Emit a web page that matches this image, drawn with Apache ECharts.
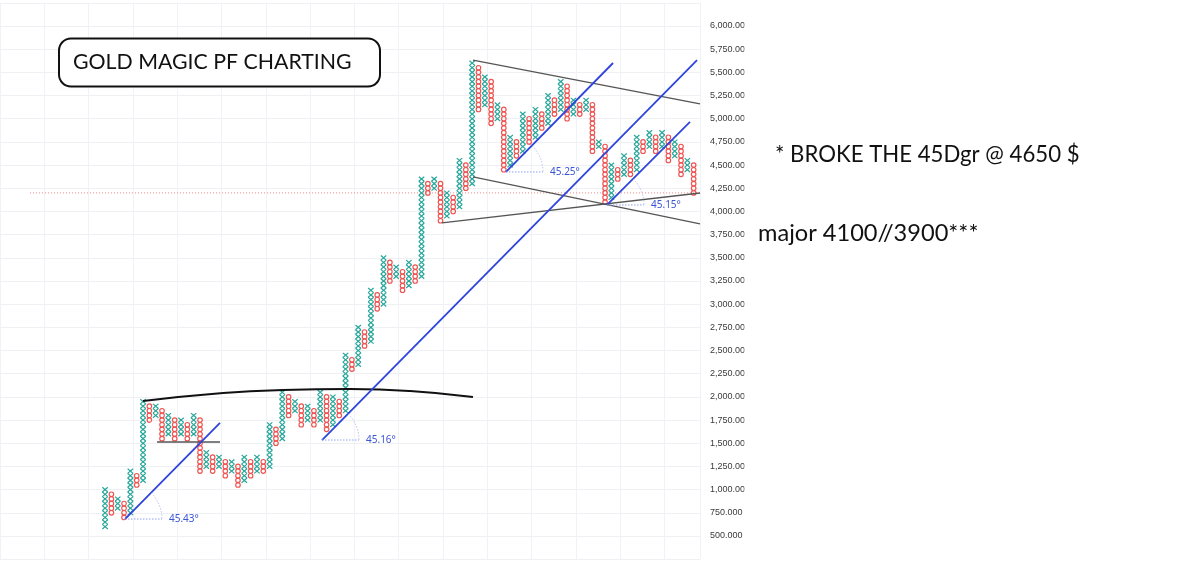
<!DOCTYPE html>
<html><head><meta charset="utf-8">
<script src="https://cdn.jsdelivr.net/npm/echarts@6/dist/echarts.min.js"></script>
<style>html,body{margin:0;padding:0;background:#fff}#c{width:1200px;height:580px}</style>
</head><body><div id="c"></div>
<script>
// ---- data ----
const BOX = 50;
// Point & Figure columns: first column is X, then O / X alternate
const colLow  = [600,750,800,700,750,1050,1100,1750,1800,1550,1600,1550,1600,1550,1600,1200,1250,1200,1250,1150,
                 1200,1050,1100,1150,1200,1200,1250,1500,1550,1800,1850,1700,1750,1700,1750,1650,1700,1800,1850,2300,
                 2350,2550,2600,2950,3000,3250,3300,3150,3200,3250,3300,4200,4250,3900,3950,4000,4050,4250,4300,5100,
                 5150,4950,5000,4450,4500,4600,4650,4750,4800,4900,4950,5050,5100,5000,5050,5050,5100,4650,4700,4100,
                 4150,4350,4400,4400,4450,4650,4700,4650,4700,4550,4600,4400,4450,4200];
const colHigh = [1000,950,900,850,1200,1150,1950,1900,1900,1850,1800,1750,1750,1700,1800,1750,1400,1350,1350,1300,
                 1300,1250,1350,1300,1350,1300,1700,1650,2050,2000,1950,1900,1900,1850,2050,2000,2000,1950,2450,2400,
                 2750,2700,3150,3100,3500,3450,3400,3350,3450,3400,4350,4300,4350,4300,4200,4150,4550,4500,5600,5550,
                 5450,5400,5150,5100,4800,4750,5050,5000,5100,5050,5250,5200,5400,5350,5200,5150,5200,5150,4750,4700,
                 4500,4450,4600,4550,4800,4750,4850,4800,4850,4800,4750,4700,4550,4500];
const lastPrice = 4200;
// 45-degree trend lines [startCol, startPrice, endCol, endPrice], with their angle labels
const trendLines = [[4.15,683,19.16,1719],[35.28,1535,94.53,5633],[64.35,4426,81.26,5601],[80.31,4070,93.42,4965]];
const trendLabels = ['45.43°','45.16°','45.25°','45.15°'];
// channel lines (gray)
const channelLines = [[59.13,5633,95.0,5159],[59.13,4372,95.0,3865],[54.24,3876,95.0,4199]];
const supportLine = [[9.2,1514],[19.16,1514]];
const arcLine = [[7.0,1956],[19.65,2042],[29.13,2075],[39.7,2085],[49.2,2064],[59.13,2000]];
const priceLineFrom = -10.85, priceLineTo = 95.0;
const titleText = 'GOLD MAGIC PF CHARTING';
const note1 = '* BROKE THE 45Dgr @ 4650 $';
const note2 = 'major 4100//3900***';

// ---- build ----
const X_COLOR = '#26a69a', O_COLOR = '#ef5350', BLUE = '#2e44dc';
const boxes = [];
colLow.forEach((lo, i) => {
  const isX = i % 2 === 0 ? 1 : 0;
  for (let p = lo; p <= colHigh[i] + 1e-6; p += BOX) boxes.push([i + 1, p, isX]);
});

function fmt(v) {
  if (v < 1000) return v.toFixed(3);
  const s = Math.round(v).toString();
  return s.slice(0, s.length - 3) + ',' + s.slice(-3) + '.00';
}

const series = [];
series.push({
  type: 'custom', data: boxes, z: 2, silent: true, clip: false,
  renderItem(params, api) {
    const c = api.coord([api.value(0), api.value(1)]);
    const sz = api.size([1, BOX]);
    const hw = sz[0] * 0.43, hh = sz[1] * 0.5;
    if (api.value(2) === 1) {
      return {type: 'group', children: [
        {type: 'line', shape: {x1: c[0]-hw, y1: c[1]-hh, x2: c[0]+hw, y2: c[1]+hh}, style: {stroke: X_COLOR, lineWidth: 1.2}},
        {type: 'line', shape: {x1: c[0]-hw, y1: c[1]+hh, x2: c[0]+hw, y2: c[1]-hh}, style: {stroke: X_COLOR, lineWidth: 1.2}}
      ]};
    }
    return {type: 'circle', shape: {cx: c[0], cy: c[1], r: Math.min(hw, hh) * 0.98}, style: {fill: 'none', stroke: O_COLOR, lineWidth: 1.15}};
  }
});
// last price dotted line
series.push({type: 'line', data: [[priceLineFrom, lastPrice], [priceLineTo, lastPrice]], symbol: 'none', silent: true, z: 1,
  lineStyle: {color: '#f08484', width: 1, type: [1, 2]}});
// arc
series.push({type: 'line', data: arcLine, smooth: true, symbol: 'none', silent: true, z: 5,
  lineStyle: {color: '#111', width: 2}});
series.push({type: 'line', data: supportLine, symbol: 'none', silent: true, z: 5,
  lineStyle: {color: '#555', width: 1.5}});
channelLines.forEach(l => series.push({type: 'line', data: [[l[0], l[1]], [l[2], l[3]]], symbol: 'none', silent: true, z: 5,
  lineStyle: {color: '#555', width: 1.3}}));
trendLines.forEach(l => series.push({type: 'line', data: [[l[0], l[1]], [l[2], l[3]]], symbol: 'none', silent: true, z: 6,
  lineStyle: {color: BLUE, width: 1.8}}));
// angle markers
series.push({
  type: 'custom', z: 7, silent: true, clip: false,
  data: trendLines.map((l, i) => [l[0], l[1], i]),
  renderItem(params, api) {
    const c = api.coord([api.value(0), api.value(1)]);
    const i = api.value(2);
    const R = 37;
    return {type: 'group', children: [
      {type: 'line', shape: {x1: c[0], y1: c[1], x2: c[0] + R, y2: c[1]}, style: {stroke: '#8fa0ee', lineWidth: 1, lineDash: [1.5, 1.5]}},
      {type: 'arc', shape: {cx: c[0], cy: c[1], r: R, startAngle: -Math.PI / 4, endAngle: 0, clockwise: true},
        style: {stroke: '#b9c4f2', lineWidth: 1, fill: 'none', lineDash: [1.5, 1.5]}},
      {type: 'text', x: c[0] + 44, y: c[1], style: {text: trendLabels[i], fill: '#3a55d6', fontSize: 10,
        fontFamily: 'Noto Sans', verticalAlign: 'middle', align: 'left'}}
    ]};
  }
});

const chart = echarts.init(document.getElementById('c'));
chart.setOption({
  animation: false,
  backgroundColor: '#fff',
  grid: {left: 0, right: 500, top: 2.82, bottom: 20.82, containLabel: false, outerBoundsMode: 'none'},
  xAxis: {type: 'value', min: -15.6, max: 95.0, interval: 7,
    axisLabel: {show: false}, axisTick: {show: false}, axisLine: {show: false},
    splitLine: {show: true, lineStyle: {color: '#f1f2f5', width: 1}}},
  yAxis: {type: 'value', position: 'right', min: 250, max: 6250, interval: 250,
    axisLine: {show: false}, axisTick: {show: false},
    splitLine: {show: true, lineStyle: {color: '#eef0f3', width: 1}},
    axisLabel: {margin: 10, color: '#3a3a3a', fontSize: 9, fontFamily: 'Liberation Sans',
      formatter: v => (v <= 250 || v >= 6250) ? '' : fmt(v)}},
  series,
  graphic: [
    {type: 'rect', left: 744.5, top: 0, shape: {width: 11, height: 565}, style: {fill: '#fff'}, z: 100},
    {type: 'rect', shape: {x: 59, y: 38.5, width: 321, height: 48, r: 12}, style: {fill: '#fff', stroke: '#111', lineWidth: 2}, z: 100},
    {type: 'text', x: 73, y: 62, style: {text: titleText, fontSize: 21.3, fontFamily: 'Lato', fill: '#111', verticalAlign: 'middle'}, z: 101},
    {type: 'text', x: 775, y: 155, style: {text: note1, fontSize: 22.2, fontFamily: 'Lato', fill: '#111', verticalAlign: 'middle'}, z: 101},
    {type: 'text', x: 758, y: 233, style: {text: note2, fontSize: 23.6, fontFamily: 'Lato', fill: '#111', verticalAlign: 'middle'}, z: 101}
  ]
});
</script></body></html>
